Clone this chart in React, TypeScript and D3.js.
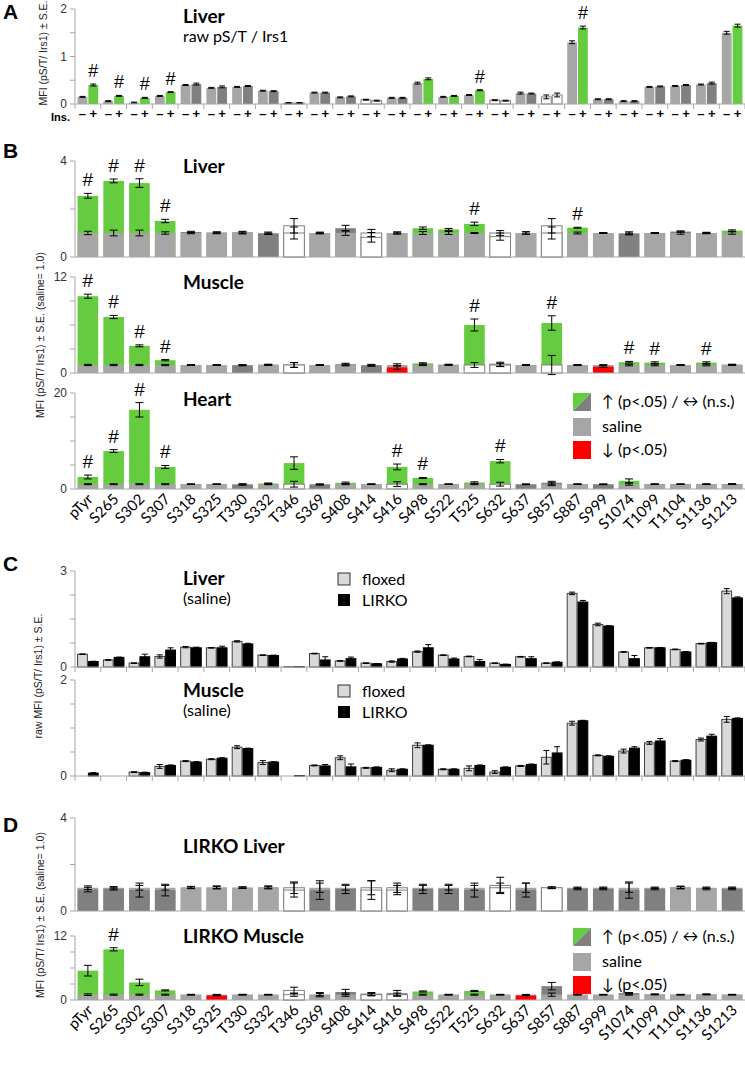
import React from 'react';
import * as d3 from 'd3';

// ---------------- DATA ----------------
const categories = ['pTyr','S265','S302','S307','S318','S325','T330','S332','T346','S369','S408','S414','S416','S498','S522','T525','S632','S637','S857','S887','S999','S1074','T1099','T1104','S1136','S1213'];

// Panel A: raw pS/T / Irs1 in liver, saline (−) vs insulin (+)
const aMinus = [0.15,0.06,0.03,0.17,0.40,0.34,0.36,0.28,0.02,0.24,0.14,0.09,0.13,0.44,0.15,0.19,0.08,0.23,0.15,1.30,0.10,0.06,0.36,0.38,0.41,1.50];
const aPlus  = [0.40,0.17,0.13,0.25,0.42,0.36,0.38,0.27,0.02,0.24,0.16,0.07,0.13,0.53,0.17,0.29,0.07,0.22,0.19,1.61,0.10,0.06,0.37,0.40,0.44,1.65];
const aMinusErr = [0.01,0.01,0.01,0.01,0.01,0.01,0.01,0.01,0.01,0.01,0.01,0.01,0.01,0.02,0.01,0.01,0.01,0.02,0.04,0.03,0.01,0.01,0.01,0.01,0.01,0.03];
const aPlusErr  = [0.02,0.01,0.01,0.01,0.02,0.02,0.01,0.01,0.01,0.01,0.01,0.01,0.01,0.02,0.01,0.01,0.01,0.01,0.04,0.03,0.01,0.01,0.01,0.01,0.02,0.03];
const aPlusColor  = 'ggggddddwddwdgggwdwgdddddg';
const aMinusColor = 'llllllllwllwllllwlwlllllll';
const aHash = [0,1,2,3,15,19];

// Panel B: fold change (saline = 1.0)
const bLiverV   = [2.55,3.17,3.08,1.50,1.04,1.02,1.03,0.97,1.30,1.00,1.20,0.82,1.00,1.20,1.15,1.38,0.85,1.00,1.30,1.22,1.00,0.96,1.00,1.06,1.00,1.10];
const bLiverE   = [0.10,0.08,0.18,0.07,0.03,0.03,0.04,0.03,0.30,0.03,0.12,0.20,0.04,0.05,0.04,0.07,0.15,0.05,0.30,0.02,0.02,0.04,0.02,0.03,0.02,0.03];
const bLiverSE  = [0.07,0.12,0.12,0.05,0.03,0.03,0.04,0.04,0.25,0.03,0.10,0.15,0.04,0.06,0.06,0.02,0.10,0.05,0.25,0.04,0.02,0.05,0.02,0.05,0.03,0.05];
const bLiverIC  = 'ggggddddwddwdgggwdwgdddddg';
const bLiverSC  = 'llllllllwllwllllwlwlllllll';
const bLiverHash = [0,1,2,3,15,19];

const bMuscleV  = [9.6,7.0,3.4,1.6,1.0,1.0,0.95,1.05,1.0,1.0,1.1,0.92,0.7,1.2,1.05,6.0,1.1,1.0,6.25,1.0,0.8,1.35,1.3,1.0,1.3,1.05];
const bMuscleE  = [0.25,0.2,0.12,0.08,0.05,0.05,0.05,0.05,0.3,0.05,0.12,0.08,0.25,0.08,0.05,0.75,0.25,0.05,0.9,0.05,0.1,0.1,0.1,0.05,0.1,0.05];
const bMuscleSE = [0.08,0.08,0.08,0.08,0.05,0.05,0.05,0.05,0.3,0.05,0.1,0.08,0.15,0.08,0.05,0.3,0.2,0.05,1.2,0.05,0.05,0.1,0.1,0.05,0.1,0.05];
const bMuscleIC = 'ggggddddwdddrgdgwdgdrggdgd';
const bMuscleSC = 'llllllllwllllllwwlwlllllll';
const bMuscleHash = [0,1,2,3,15,18,21,22,24];

const bHeartV   = [2.5,7.9,16.5,4.6,1.0,1.0,0.9,1.15,5.4,0.9,1.3,1.0,4.6,2.3,1.0,1.35,5.8,0.95,1.3,1.0,0.95,1.7,1.0,1.0,1.0,1.05];
const bHeartE   = [0.4,0.3,1.5,0.3,0.05,0.05,0.1,0.1,1.3,0.1,0.15,0.05,0.6,0.1,0.05,0.15,0.35,0.05,0.3,0.05,0.05,0.4,0.05,0.05,0.05,0.05];
const bHeartSE  = [0.1,0.1,0.1,0.1,0.05,0.05,0.1,0.1,0.6,0.05,0.1,0.05,0.5,0.1,0.05,0.1,0.4,0.05,0.3,0.05,0.05,0.2,0.05,0.05,0.05,0.05];
const bHeartIC  = 'ggggdddggdgdggdggddddgdddd';
const bHeartSC  = 'llllllllwlllwlllwlllllllll';
const bHeartHash = [0,1,2,3,12,13,16];

// Panel C: raw MFI, saline, floxed vs LIRKO
const cLiverFloxed = [0.40,0.22,0.12,0.33,0.62,0.60,0.80,0.37,0.01,0.42,0.19,0.12,0.17,0.48,0.37,0.33,0.12,0.32,0.12,2.30,1.33,0.47,0.60,0.55,0.73,2.37];
const cLiverLirko  = [0.17,0.30,0.32,0.53,0.60,0.60,0.72,0.36,0.01,0.22,0.26,0.10,0.25,0.60,0.25,0.17,0.08,0.26,0.15,2.03,1.28,0.26,0.60,0.47,0.76,2.16];
const cLiverFloxedErr = [0.01,0.01,0.01,0.05,0.02,0.01,0.02,0.01,0.00,0.01,0.01,0.01,0.02,0.02,0.01,0.01,0.01,0.01,0.01,0.04,0.04,0.01,0.01,0.01,0.01,0.08];
const cLiverLirkoErr  = [0.01,0.01,0.08,0.07,0.02,0.05,0.02,0.01,0.00,0.10,0.05,0.01,0.02,0.10,0.03,0.06,0.01,0.06,0.01,0.05,0.01,0.10,0.01,0.01,0.01,0.03];

const cMuscleFloxed = [0.00,0.00,0.08,0.20,0.31,0.35,0.60,0.28,0.00,0.22,0.38,0.17,0.12,0.64,0.14,0.16,0.08,0.21,0.39,1.10,0.43,0.52,0.69,0.31,0.76,1.18];
const cMuscleLirko  = [0.06,0.00,0.07,0.22,0.29,0.37,0.57,0.29,0.01,0.21,0.19,0.18,0.14,0.64,0.14,0.22,0.18,0.24,0.48,1.15,0.41,0.58,0.73,0.33,0.83,1.20];
const cMuscleFloxedErr = [0.00,0.00,0.01,0.04,0.01,0.01,0.03,0.04,0.00,0.01,0.04,0.01,0.03,0.05,0.01,0.05,0.03,0.01,0.14,0.04,0.01,0.04,0.03,0.01,0.03,0.06];
const cMuscleLirkoErr  = [0.01,0.00,0.01,0.01,0.01,0.01,0.01,0.01,0.00,0.03,0.06,0.01,0.01,0.01,0.01,0.01,0.01,0.01,0.13,0.01,0.01,0.03,0.05,0.01,0.04,0.01];

// Panel D: LIRKO fold change (saline = 1.0)
const dLiverV  = [0.92,0.95,0.90,0.90,1.02,1.02,1.01,1.03,0.90,0.90,0.95,0.90,0.90,0.95,0.95,0.90,1.10,0.90,1.00,0.95,0.95,0.90,0.95,1.02,0.95,0.95];
const dLiverE  = [0.10,0.05,0.30,0.25,0.04,0.06,0.03,0.05,0.30,0.40,0.20,0.40,0.20,0.20,0.20,0.30,0.35,0.30,0.04,0.04,0.04,0.35,0.04,0.05,0.04,0.04];
const dLiverSE = [0.08,0.05,0.10,0.10,0.04,0.05,0.03,0.05,0.25,0.20,0.10,0.30,0.20,0.10,0.10,0.10,0.20,0.20,0.03,0.03,0.03,0.20,0.03,0.05,0.03,0.03];
const dLiverIC = 'ddddllllwddwwdddwdwdddddld';
const dLiverSC = 'llllllllwllwwlllwlwlllllll';

const dMuscleV  = [5.5,9.5,3.3,1.8,1.0,0.85,1.0,1.0,1.8,1.0,1.5,1.1,1.3,1.6,1.0,1.7,1.0,0.85,2.6,1.0,1.0,1.3,1.1,1.0,1.1,1.0];
const dMuscleE  = [1.0,0.3,0.6,0.1,0.05,0.05,0.05,0.05,0.6,0.4,0.5,0.3,0.5,0.1,0.05,0.1,0.05,0.05,0.7,0.05,0.05,0.1,0.05,0.05,0.05,0.05];
const dMuscleSE = [0.15,0.1,0.1,0.1,0.05,0.05,0.05,0.05,0.3,0.2,0.3,0.2,0.3,0.1,0.05,0.1,0.05,0.05,0.3,0.05,0.05,0.1,0.05,0.05,0.05,0.05];
const dMuscleIC = 'gggglrllwddwdglglrdlldldld';
const dMuscleSC = 'llllllllwllwwlllllllllllll';
const dMuscleHash = [1];

// ---------------- LAYOUT / STYLE ----------------
const W = 745, H = 1072;
const X0 = 75, X1 = 745;
const SANS = "'Liberation Sans', Arial, sans-serif";
const CAL = "Lato, 'Open Sans', sans-serif";
const AX = '#a6a6a6';
const FILL: Record<string, string> = { g: '#66cc3f', d: '#808080', l: '#a6a6a6', r: '#ff0000', w: '#ffffff' };

const x = d3.scaleBand<string>().domain(categories).range([X0, X1]).paddingInner(0.2).paddingOuter(0.1);
const step = x.step();

function ErrBar({ cx, v, e, y, cap = 4 }: any) {
  if (e <= 0) return null;
  const a = y(v + e), b = y(v - e);
  return (
    <g stroke="#000" strokeWidth={1}>
      <line x1={cx} x2={cx} y1={a} y2={b} />
      <line x1={cx - cap} x2={cx + cap} y1={a} y2={a} />
      <line x1={cx - cap} x2={cx + cap} y1={b} y2={b} />
    </g>
  );
}

function YAxis({ y, ticks, labels }: any) {
  const [r0, r1] = y.range();
  return (
    <g>
      <line x1={X0} x2={X0} y1={r0} y2={r1} stroke={AX} />
      {ticks.map((t: number) => (
        <line key={'t' + t} x1={X0 - 5} x2={X0} y1={y(t)} y2={y(t)} stroke={AX} />
      ))}
      {labels.map((t: number) => (
        <text key={'l' + t} x={X0 - 8} y={y(t)} dy="0.35em" textAnchor="end" fontSize={12} fontFamily={SANS} fill="#333">{t}</text>
      ))}
    </g>
  );
}

function BaseLine({ y, sepTicks = false }: any) {
  const y0 = y(0);
  return (
    <g>
      <line x1={X0} x2={X1} y1={y0} y2={y0} stroke={AX} />
      {sepTicks && d3.range(categories.length + 1).map((k) => (
        <line key={k} x1={X0 + k * step} x2={X0 + k * step} y1={y0} y2={y0 + 5} stroke={AX} />
      ))}
    </g>
  );
}

function FoldPanel({ y, ticks, labels, v, e, se, ic, sc, hash = [] }: any) {
  const w = x.bandwidth();
  return (
    <g>
      {categories.map((c, i) => {
        const x0 = x(c)!;
        const cx = x0 + w / 2;
        const iCol = ic[i], sCol = sc[i];
        const ins = (
          <rect key="i" x={x0} width={w} y={y(v[i])} height={y(0) - y(v[i])} fill={FILL[iCol]}
            stroke={iCol === 'w' ? '#808080' : 'none'} />
        );
        const sal = (
          <rect key="s" x={x0} width={w} y={y(1)} height={y(0) - y(1)} fill={FILL[sCol]}
            stroke={sCol === 'w' ? '#808080' : 'none'} />
        );
        const bars = v[i] >= 1 ? [ins, sal] : [sal, ins];
        return (
          <g key={c}>
            {bars}
            <ErrBar cx={cx} v={1} e={se[i]} y={y} />
            <ErrBar cx={cx} v={v[i]} e={e[i]} y={y} />
            {hash.includes(i) && (
              <text x={cx} y={y(Math.max(v[i] + e[i], 1 + se[i])) - 7} textAnchor="middle" fontSize={19} fontFamily={SANS}>#</text>
            )}
          </g>
        );
      })}
      <BaseLine y={y} />
      <YAxis y={y} ticks={ticks} labels={labels} />
    </g>
  );
}

function PairPanel({ y, ticks, labels, a, b, ae, be, fillA, fillB, strokeA, strokeB, sepTicks, hash = [] }: any) {
  const bw = x.bandwidth() / 2 - 0.5;
  return (
    <g>
      {categories.map((c, i) => {
        const x0 = x(c)!;
        const fa = typeof fillA === 'function' ? fillA(i) : fillA;
        const fb = typeof fillB === 'function' ? fillB(i) : fillB;
        const sa = typeof strokeA === 'function' ? strokeA(i) : strokeA;
        const sb = typeof strokeB === 'function' ? strokeB(i) : strokeB;
        const xa = x0, xb = x0 + bw + 1;
        return (
          <g key={c}>
            <rect x={xa} width={bw} y={y(a[i])} height={y(0) - y(a[i])} fill={fa} stroke={sa} />
            <rect x={xb} width={bw} y={y(b[i])} height={y(0) - y(b[i])} fill={fb} stroke={sb} />
            <ErrBar cx={xa + bw / 2} v={a[i]} e={ae[i]} y={y} cap={3} />
            <ErrBar cx={xb + bw / 2} v={b[i]} e={be[i]} y={y} cap={3} />
            {hash.includes(i) && (
              <text x={xb + bw / 2} y={y(b[i] + be[i]) - 7} textAnchor="middle" fontSize={18} fontFamily={SANS}>#</text>
            )}
          </g>
        );
      })}
      <BaseLine y={y} sepTicks={sepTicks} />
      <YAxis y={y} ticks={ticks} labels={labels} />
    </g>
  );
}

function XLabels({ y0 }: any) {
  return (
    <g>
      {categories.map((c) => {
        const ax = x(c)! + x.bandwidth() / 2 + 6;
        const ay = y0 + 11;
        return (
          <text key={c} x={ax} y={ay} textAnchor="end" transform={`rotate(-45 ${ax} ${ay})`} fontSize={15} fontFamily={CAL} fill="#000">{c}</text>
        );
      })}
    </g>
  );
}

function FoldLegend({ top }: any) {
  const lx = 573, s = 18;
  return (
    <g fontFamily={CAL} fontSize={16}>
      <polygon points={`${lx},${top} ${lx + s},${top} ${lx},${top + s}`} fill={FILL.g} />
      <polygon points={`${lx + s},${top} ${lx + s},${top + s} ${lx},${top + s}`} fill={FILL.d} />
      <text x={602} y={top + 14}>{'\u2191 (p<.05) / \u2194 (n.s.)'}</text>
      <rect x={lx} y={top + 25} width={s} height={s} fill={FILL.l} />
      <text x={602} y={top + 39}>saline</text>
      <rect x={lx} y={top + 48} width={s} height={s} fill={FILL.r} />
      <text x={602} y={top + 62}>{'\u2193 (p<.05)'}</text>
    </g>
  );
}

function CLegend({ top }: any) {
  return (
    <g fontFamily={CAL} fontSize={16}>
      <rect x={338} y={top} width={12} height={12} fill="#d9d9d9" stroke="#333" />
      <text x={362} y={top + 12}>floxed</text>
      <rect x={338} y={top + 21} width={12} height={12} fill="#000" />
      <text x={362} y={top + 33}>LIRKO</text>
    </g>
  );
}

function PanelLetter({ t, y }: any) {
  return <text x={3} y={y} fontSize={21} fontWeight="bold" fontFamily={SANS}>{t}</text>;
}

function Title({ t, y, sub }: any) {
  return (
    <g fontFamily={CAL}>
      <text x={183} y={y} fontSize={19} fontWeight="bold">{t}</text>
      {sub && <text x={183} y={y + 19} fontSize={16}>{sub}</text>}
    </g>
  );
}

function YTitle({ cx, cy, children }: any) {
  return (
    <text transform={`translate(${cx},${cy}) rotate(-90)`} textAnchor="middle" fontFamily={SANS} fontSize={10.5} fill="#222">{children}</text>
  );
}

export default function App() {
  const yA = d3.scaleLinear().domain([0, 2]).range([104, 9]);
  const yBL = d3.scaleLinear().domain([0, 4]).range([257, 161]);
  const yBM = d3.scaleLinear().domain([0, 12]).range([373, 277]);
  const yBH = d3.scaleLinear().domain([0, 20]).range([489, 393]);
  const yCL = d3.scaleLinear().domain([0, 3]).range([667, 571]);
  const yCM = d3.scaleLinear().domain([0, 2]).range([776, 680]);
  const yDL = d3.scaleLinear().domain([0, 4]).range([911, 818]);
  const yDM = d3.scaleLinear().domain([0, 12]).range([1000, 936]);
  const bw = x.bandwidth() / 2 - 0.5;

  return (
    <svg width={W} height={H} viewBox={`0 0 ${W} ${H}`} style={{ position: 'absolute', left: 0, top: 0, display: 'block', background: '#fff' }}>
      <rect width={W} height={H} fill="#fff" />
      {/* Panel A */}
      <PanelLetter t="A" y={19} />
      <Title t="Liver" y={23} sub="raw pS/T / Irs1" />
      <YTitle cx={47} cy={53}>MFI (pS/T/ Irs1) ± S.E.</YTitle>
      <PairPanel y={yA} ticks={[0, 0.5, 1, 1.5, 2]} labels={[0, 1, 2]} a={aMinus} b={aPlus} ae={aMinusErr} be={aPlusErr}
        fillA={(i: number) => FILL[aMinusColor[i]]} fillB={(i: number) => FILL[aPlusColor[i]]}
        strokeA={(i: number) => (aMinusColor[i] === 'w' ? '#808080' : 'none')}
        strokeB={(i: number) => (aPlusColor[i] === 'w' ? '#808080' : 'none')}
        sepTicks hash={aHash} />
      <g fontFamily={SANS} fontSize={13} fontWeight="bold">
        <text x={51} y={121} fontSize={11}>Ins.</text>
        {categories.map((c) => (
          <g key={c}>
            <text x={x(c)! + bw / 2} y={118} textAnchor="middle">{'\u2013'}</text>
            <text x={x(c)! + bw * 1.5 + 1} y={118} textAnchor="middle">+</text>
          </g>
        ))}
      </g>

      {/* Panel B */}
      <PanelLetter t="B" y={158} />
      <Title t="Liver" y={173} />
      <FoldPanel y={yBL} ticks={[0, 2, 4]} labels={[0, 4]} v={bLiverV} e={bLiverE} se={bLiverSE} ic={bLiverIC} sc={bLiverSC} hash={bLiverHash} />
      <Title t="Muscle" y={289} />
      <FoldPanel y={yBM} ticks={[0, 3, 6, 9, 12]} labels={[0, 12]} v={bMuscleV} e={bMuscleE} se={bMuscleSE} ic={bMuscleIC} sc={bMuscleSC} hash={bMuscleHash} />
      <Title t="Heart" y={406} />
      <FoldPanel y={yBH} ticks={[0, 5, 10, 15, 20]} labels={[0, 20]} v={bHeartV} e={bHeartE} se={bHeartSE} ic={bHeartIC} sc={bHeartSC} hash={bHeartHash} />
      <FoldLegend top={393} />
      <XLabels y0={489} />
      <YTitle cx={44} cy={335}>MFI (pS/T/ Irs1) ± S.E. (saline= 1.0)</YTitle>

      {/* Panel C */}
      <PanelLetter t="C" y={571} />
      <Title t="Liver" y={585} sub="(saline)" />
      <CLegend top={573} />
      <PairPanel y={yCL} ticks={[0, 0.75, 1.5, 2.25, 3]} labels={[0, 3]} a={cLiverFloxed} b={cLiverLirko} ae={cLiverFloxedErr} be={cLiverLirkoErr}
        fillA="#d9d9d9" fillB="#000" strokeA="#404040" strokeB="#000" sepTicks />
      <Title t="Muscle" y={697} sub="(saline)" />
      <CLegend top={685} />
      <PairPanel y={yCM} ticks={[0, 0.5, 1, 1.5, 2]} labels={[0, 2]} a={cMuscleFloxed} b={cMuscleLirko} ae={cMuscleFloxedErr} be={cMuscleLirkoErr}
        fillA="#d9d9d9" fillB="#000" strokeA="#404040" strokeB="#000" sepTicks />
      <YTitle cx={42} cy={676}>raw MFI (pS/T/ Irs1) ± S.E.</YTitle>

      {/* Panel D */}
      <PanelLetter t="D" y={832} />
      <Title t="LIRKO Liver" y={853} />
      <FoldPanel y={yDL} ticks={[0, 2, 4]} labels={[0, 4]} v={dLiverV} e={dLiverE} se={dLiverSE} ic={dLiverIC} sc={dLiverSC} />
      <Title t="LIRKO Muscle" y={943} />
      <FoldPanel y={yDM} ticks={[0, 3, 6, 9, 12]} labels={[0, 12]} v={dMuscleV} e={dMuscleE} se={dMuscleSE} ic={dMuscleIC} sc={dMuscleSC} hash={dMuscleHash} />
      <FoldLegend top={928} />
      <XLabels y0={1000} />
      <YTitle cx={44} cy={915}>MFI (pS/T/ Irs1) ± S.E. (saline= 1.0)</YTitle>
    </svg>
  );
}
